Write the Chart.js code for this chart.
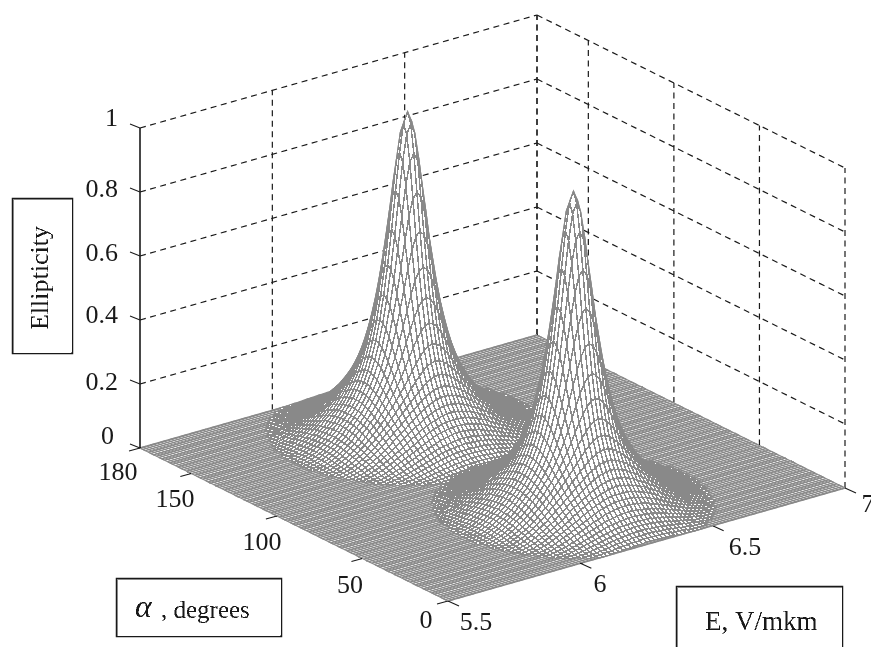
<!DOCTYPE html>
<html><head><meta charset="utf-8">
<style>html,body{margin:0;padding:0;background:#fff;overflow:hidden}canvas{display:block;filter:url(#raster)}</style>
<script src="https://cdn.jsdelivr.net/npm/chart.js@4"></script>
</head><body>
<svg width="0" height="0" style="position:absolute"><filter id="raster" x="0" y="0" width="100%" height="100%" color-interpolation-filters="sRGB">
<feComponentTransfer><feFuncR type="discrete" tableValues="0.1 0.54 0.54 1"/><feFuncG type="discrete" tableValues="0.1 0.54 0.54 1"/><feFuncB type="discrete" tableValues="0.1 0.54 0.54 1"/></feComponentTransfer>
<feGaussianBlur stdDeviation="0.35"/>
</filter></svg>
<canvas id="c" width="871" height="647"></canvas>
<script>
// Axis ticks
const zTicks=[0,0.2,0.4,0.6,0.8,1];
const eTicks=[5.5,6,6.5,7];
const alphaTicks=[180,150,100,50,0];
// Mesh resolution of the surface (lines per axis)
const meshLines=100;
const floorLines=113;
// Ridge heights and mesh-index centres
const peakHeights=[1.0,0.98];
const peakEIndex=[48,51];
const peakAlphaIndex=[25,75];
// Height (in thousandths) around a ridge, by mesh-step offset along E (row) and alpha (column)
const ridgeTable=[
[1000,967,880,764,646,539,448,373,313,265,226,194,169,146,128,110,95,81,67,55,44,35,26,18,12,7,3,1],
[967,936,854,745,632,529,441,369,310,262,224,193,168,146,127,109,94,81,66,54,43,35,26,18,12,7,3,1],
[880,854,785,692,593,502,422,355,300,255,219,189,165,143,124,108,93,79,65,53,42,34,25,18,11,6,3,1],
[764,745,692,619,539,462,394,335,285,245,211,183,160,140,121,106,91,77,63,52,42,33,24,17,11,6,3,1],
[646,632,593,539,477,416,360,310,267,231,201,176,154,135,116,102,88,74,60,50,41,31,23,16,10,5,2,1],
[539,529,502,462,416,369,324,283,247,216,189,167,146,129,112,97,84,72,58,48,38,30,22,15,9,5,2],
[448,441,422,394,360,324,288,255,226,200,177,156,139,121,107,93,80,66,55,46,36,27,20,13,8,4,1],
[373,369,355,335,310,283,255,229,205,183,164,146,130,113,101,87,74,61,51,42,33,25,18,12,7,3,1],
[313,310,300,285,267,247,226,205,186,168,151,135,119,106,93,81,69,57,47,38,30,22,16,10,6,2,1],
[265,262,255,245,231,216,200,183,168,152,138,123,110,97,85,74,62,52,42,34,27,19,13,8,4,2],
[226,224,219,211,201,189,177,164,151,138,124,112,101,90,78,66,56,47,38,30,23,16,11,6,3,1],
[194,193,189,183,176,167,156,146,135,123,112,102,91,81,70,59,50,41,34,26,20,14,9,5,2],
[169,168,165,160,154,146,139,130,119,110,101,91,81,72,60,52,44,36,29,22,16,11,6,3,1],
[146,146,143,140,135,129,121,113,106,97,90,81,72,61,53,46,38,31,24,18,13,8,5,2],
[128,127,124,121,116,112,107,101,93,85,78,70,60,53,46,39,32,26,20,14,10,5,3,1],
[110,109,108,106,102,97,93,87,81,74,66,59,52,46,39,33,27,21,15,11,7,4,1],
[95,94,93,91,88,84,80,74,69,62,56,50,44,38,32,27,21,16,11,7,4,2],
[81,81,79,77,74,72,66,61,57,52,47,41,36,31,26,21,16,12,8,5,2,1],
[67,66,65,63,60,58,55,51,47,42,38,34,29,24,20,15,11,8,5,3,1],
[55,54,53,52,50,48,46,42,38,34,30,26,22,18,14,11,7,5,3,1],
[44,43,42,42,41,38,36,33,30,27,23,20,16,13,10,7,4,2,1],
[35,35,34,33,31,30,27,25,22,19,16,14,11,8,5,4,2,1],
[26,26,25,24,23,22,20,18,16,13,11,9,6,5,3,1],
[18,18,18,17,16,15,13,12,10,8,6,5,3,2,1],
[12,12,11,11,10,9,8,7,6,4,3,2,1],
[7,7,6,6,5,5,4,3,2,2,1],
[3,3,3,3,2,2,1,1,1],
[1,1,1,1,1]
];
const GRAY='#8a8a8a';
const project=(E,alpha,z)=>({
  x:140+(E-5.5)/1.5*397+(180-alpha)/180*308,
  y:448-(E-5.5)/1.5*113+(180-alpha)/180*153-z*320
});
const meshE=i=>5.5+1.5*i/meshLines;
const meshA=j=>180-180*j/meshLines;
const layers=[];
const line=(pts,color,width,dash)=>layers.push({data:pts,showLine:true,pointRadius:0,borderColor:color,borderWidth:width,borderDash:dash||[],fill:false,tension:0});
const DASH=[6,4.5];
// walls
zTicks.forEach(z=>{
  line([project(5.5,180,z),project(7,180,z)],'#000',1.2,DASH);
  line([project(7,180,z),project(7,0,z)],'#000',1.2,DASH);
});
eTicks.slice(1).forEach(e=>line([project(e,180,0),project(e,180,1)],'#000',1.2,DASH));
alphaTicks.forEach(a=>line([project(7,a,0),project(7,a,1)],'#000',1.2,DASH));
// floor outline
line([project(5.5,180,0),project(5.5,0,0)],'#000',1.2,DASH);
line([project(5.5,0,0),project(7,0,0)],'#000',1.2,DASH);
// floor mesh
const eLines=[],aLines=[];
for(let k=0;k<=floorLines;k++){
  const e=5.5+1.5*k/floorLines,a=180-180*k/floorLines;
  eLines.push(project(e,180,0),project(e,0,0),{x:NaN,y:NaN});
  aLines.push(project(5.5,a,0),project(7,a,0),{x:NaN,y:NaN});
}
line(eLines,GRAY,1.3);line(aLines,GRAY,1.3);
// ridges: quads painted back to front
const ridgeZ=(p,i,j)=>{
  const a=Math.abs(i-peakEIndex[p]),b=Math.abs(j-peakAlphaIndex[p]);
  const row=ridgeTable[a];
  return (row&&row[b]?row[b]:0)/1000*peakHeights[p];
};
peakHeights.forEach((h,p)=>{
  const R=ridgeTable.length;
  for(let j=Math.max(0,peakAlphaIndex[p]-R);j<Math.min(meshLines,peakAlphaIndex[p]+R);j++){
    for(let i=peakEIndex[p]+R-1;i>=peakEIndex[p]-R;i--){
      const c=[[i,j],[i+1,j],[i+1,j+1],[i,j+1]];
      const zs=c.map(q=>ridgeZ(p,q[0],q[1]));
      if(!zs.some(v=>v>0))continue;
      const pts=c.map((q,n)=>project(meshE(q[0]),meshA(q[1]),zs[n]));
      pts.push(pts[0]);
      layers.push({data:pts,showLine:true,pointRadius:0,borderColor:GRAY,borderWidth:1.35,backgroundColor:'#fff',fill:'shape',tension:0});
    }
  }
});
// z axis and ticks
line([project(5.5,180,0),project(5.5,180,1)],'#000',1.6);
const uE={x:-11,y:3},uA={x:11,y:5};
zTicks.forEach(z=>{const a=project(5.5,180,z);line([a,{x:a.x-10,y:a.y-4}],'#000',1.1)});
alphaTicks.forEach(t=>{const a=project(5.5,t,0);line([a,{x:a.x+uE.x,y:a.y+uE.y}],'#000',1.1)});
eTicks.forEach(t=>{const a=project(t,0,0);line([a,{x:a.x+uA.x,y:a.y+uA.y}],'#000',1.1)});

const labelFont='26px "Liberation Serif"';
const zLabelPos=[[114,437],[118,383],[118,316],[118,254],[118,190],[118,119]];
const aLabelPos=[[118,473],[175,500],[262,543],[350,586],[426,621]];
const eLabelPos=[[476,623],[600,585],[745,548],[868,505]];
const textPlugin={id:'txt',afterDatasetsDraw(ch){
  const c=ch.ctx;c.save();c.fillStyle='#000';c.strokeStyle='#000';c.lineWidth=1.5;c.textBaseline='middle';
  c.font=labelFont;
  c.textAlign='right';
  zTicks.forEach((t,i)=>c.fillText(String(t),zLabelPos[i][0],zLabelPos[i][1]));
  c.textAlign='center';
  alphaTicks.forEach((t,i)=>c.fillText(String(t),aLabelPos[i][0],aLabelPos[i][1]));
  eTicks.forEach((t,i)=>c.fillText(String(t),eLabelPos[i][0],eLabelPos[i][1]));
  // boxes
  c.fillStyle='#fff';
  [[12.5,198.5,60,155],[116.5,578.5,165,58],[676.5,586.5,166,70]].forEach(b=>{c.fillRect(b[0],b[1],b[2],b[3]);c.strokeRect(b[0],b[1],b[2],b[3])});
  c.fillStyle='#000';
  c.font='27px "Liberation Serif"';c.textAlign='left';c.fillText('E, V/mkm',705,623);
  c.font='25px "Liberation Serif"';c.fillText(', degrees',161,611);
  c.font='italic 32px "Liberation Serif"';c.fillText('\u03b1',135,609);
  c.save();c.translate(41,278);c.rotate(-Math.PI/2);c.font='26px "Liberation Serif"';c.textAlign='center';c.fillText('Ellipticity',0,0);c.restore();
  c.restore();
}};
new Chart(document.getElementById('c'),{
  type:'scatter',
  data:{datasets:layers.slice().reverse()},
  options:{responsive:false,animation:false,events:[],
    layout:{padding:0},
    plugins:{legend:{display:false},tooltip:{enabled:false},title:{display:false}},
    scales:{x:{type:'linear',display:false,min:0,max:871},y:{type:'linear',display:false,min:0,max:647,reverse:true}}
  },
  plugins:[textPlugin]
});
</script></body></html>
